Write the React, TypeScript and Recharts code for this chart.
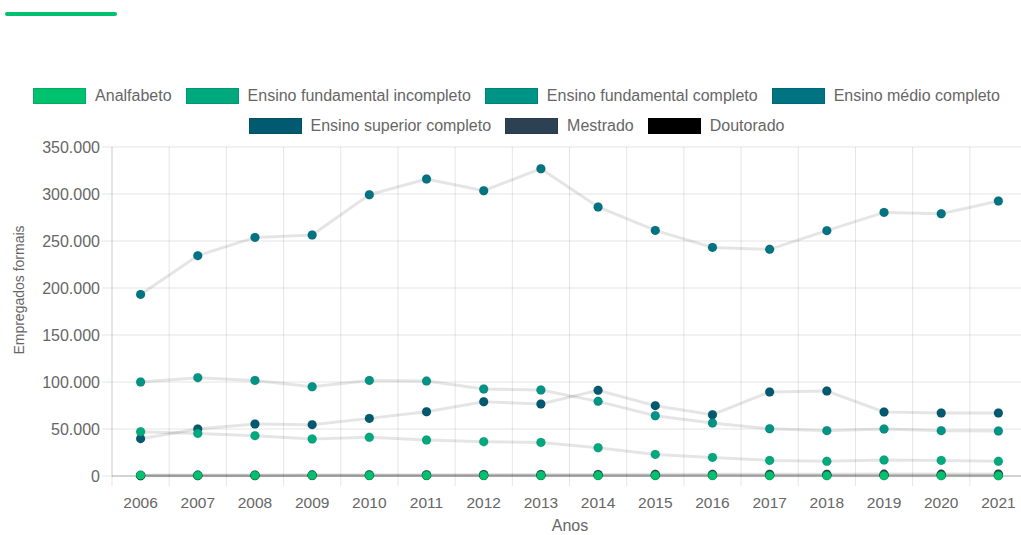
import React from 'react';
import { LineChart, Line, XAxis, YAxis, CartesianGrid } from 'recharts';

const years = ['2006', '2007', '2008', '2009', '2010', '2011', '2012', '2013', '2014', '2015', '2016', '2017', '2018', '2019', '2020', '2021'];

const analfabeto = [700, 650, 620, 600, 560, 540, 520, 500, 460, 420, 400, 380, 360, 350, 330, 310];
const fundIncompleto = [47100, 45300, 42900, 39400, 41100, 38300, 36500, 35700, 30100, 23000, 19800, 16600, 15600, 17000, 16600, 15600];
const fundCompleto = [100000, 104600, 101700, 95000, 101700, 101000, 92500, 91500, 79400, 64100, 56400, 50300, 48200, 50000, 48200, 47900];
const medioCompleto = [193200, 234400, 253800, 256400, 299200, 315900, 303500, 326900, 286200, 261300, 243200, 241100, 261000, 280400, 279000, 292500];
const superiorCompleto = [39700, 50000, 55300, 54600, 61300, 68400, 79000, 76600, 91100, 74800, 65200, 89400, 90400, 68100, 67000, 67000];
const mestrado = [900, 1000, 1150, 1200, 1350, 1400, 1550, 1600, 1700, 1750, 1800, 1900, 1950, 2000, 2050, 2100];
const doutorado = [300, 340, 380, 420, 450, 500, 530, 570, 600, 640, 670, 700, 720, 750, 780, 810];

const yTicks = [0, 50000, 100000, 150000, 200000, 250000, 300000, 350000];

const series = [
  { key: 'analfabeto', name: 'Analfabeto', color: '#00C16E', values: analfabeto },
  { key: 'fundIncompleto', name: 'Ensino fundamental incompleto', color: '#00AA7E', values: fundIncompleto },
  { key: 'fundCompleto', name: 'Ensino fundamental completo', color: '#009487', values: fundCompleto },
  { key: 'medioCompleto', name: 'Ensino médio completo', color: '#007482', values: medioCompleto },
  { key: 'superiorCompleto', name: 'Ensino superior completo', color: '#025A70', values: superiorCompleto },
  { key: 'mestrado', name: 'Mestrado', color: '#2C4252', values: mestrado },
  { key: 'doutorado', name: 'Doutorado', color: '#000000', values: doutorado },
];

const data = years.map((ano, i) => {
  const row: Record<string, string | number> = { ano };
  series.forEach((s) => { row[s.key] = s.values[i]; });
  return row;
});

const FONT = '"Liberation Sans", Arial, Helvetica, sans-serif';
const TEXT = '#666';
const GRID = 'rgba(0,0,0,0.1)';

const CHART_W = 1040;
const MARGIN = { top: 147, right: 13, bottom: 0, left: 0 };
const Y_AXIS_W = 112;
const PLOT_W = CHART_W - MARGIN.left - MARGIN.right - Y_AXIS_W;
const BAND = PLOT_W / years.length;

const fmt = (v: number) => String(v).replace(/\B(?=(\d{3})+(?!\d))/g, '.');

// category label plus the boundary tick mark that continues the vertical grid
const XTick = (props: any) => {
  const { x, y, payload } = props;
  return (
    <g>
      <line x1={x - BAND / 2} x2={x - BAND / 2} y1={y - 10} y2={y} stroke={GRID} />
      <text x={x} y={y + 22} textAnchor="middle" fill={TEXT} fontSize={15.5} fontFamily={FONT}>
        {payload.value}
      </text>
    </g>
  );
};

const Legend = () => (
  <div
    style={{
      position: 'absolute', top: 88, left: 0, width: 1033,
      display: 'flex', flexWrap: 'wrap', justifyContent: 'center',
      columnGap: 14, rowGap: 14, fontFamily: FONT, fontSize: 16, color: TEXT,
    }}
  >
    {series.map((s) => (
      <div key={s.key} style={{ display: 'flex', alignItems: 'center', height: 16 }}>
        <span
          style={{
            display: 'inline-block', width: 53, height: 16, boxSizing: 'border-box',
            background: s.color, border: `1.5px solid ${GRID}`, marginRight: 9,
          }}
        />
        <span style={{ lineHeight: '16px', whiteSpace: 'nowrap' }}>{s.name}</span>
      </div>
    ))}
  </div>
);

export default function App() {
  return (
    <div style={{ position: 'fixed', left: 0, top: 0, width: 1021, height: 535, overflow: 'hidden', background: '#fff' }}>
      <div style={{ position: 'absolute', left: 5, top: 12, width: 112, height: 4, borderRadius: 2, background: '#00C16E' }} />
      <Legend />
      <div style={{ position: 'absolute', left: 0, top: 0 }}>
        <LineChart width={CHART_W} height={535} data={data} margin={MARGIN}>
          <CartesianGrid
            stroke={GRID}
            verticalCoordinatesGenerator={({ offset }: any) =>
              years.map((_, i) => offset.left + (i * offset.width) / years.length).concat(offset.left + offset.width)
            }
          />
          <XAxis
            dataKey="ano"
            interval={0}
            height={59}
            padding={{ left: BAND / 2, right: BAND / 2 }}
            tickSize={10}
            tickMargin={0}
            tickLine={false}
            axisLine={{ stroke: 'rgba(0,0,0,0.25)' }}
            tick={<XTick />}
            label={{
              content: () => (
                <text x={570} y={531} textAnchor="middle" fill={TEXT} fontSize={16} fontFamily={FONT}>Anos</text>
              ),
            }}
          />
          <YAxis
            width={Y_AXIS_W}
            domain={[0, 350000]}
            ticks={yTicks}
            tickFormatter={fmt}
            tickSize={10}
            tickMargin={2}
            tickLine={{ stroke: GRID }}
            axisLine={{ stroke: GRID }}
            tick={{ fill: TEXT, fontSize: 16, fontFamily: FONT }}
            label={{
              content: () => (
                <text
                  x={0}
                  y={0}
                  transform="translate(24 290) rotate(-90)"
                  textAnchor="middle"
                  fill={TEXT}
                  fontSize={14}
                  fontFamily={FONT}
                >
                  Empregados formais
                </text>
              ),
            }}
          />
          {[...series].reverse().map((s) => (
            <Line
              key={s.key}
              dataKey={s.key}
              name={s.name}
              type="linear"
              stroke={GRID}
              strokeWidth={3}
              dot={{ r: 4.5, fill: s.color, stroke: GRID, strokeWidth: 1 }}
              activeDot={false}
              isAnimationActive={false}
            />
          ))}
        </LineChart>
      </div>
    </div>
  );
}
